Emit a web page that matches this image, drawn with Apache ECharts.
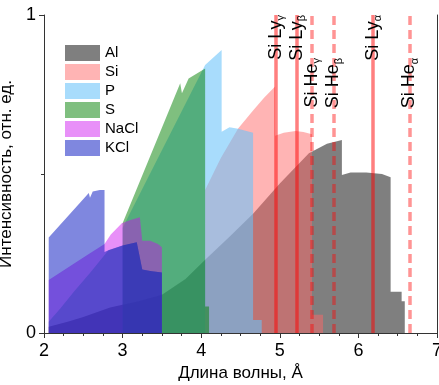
<!DOCTYPE html>
<html><head><meta charset="utf-8">
<script src="https://cdn.jsdelivr.net/npm/echarts@6/dist/echarts.min.js"></script>
<style>html,body{margin:0;padding:0;background:#fff}#c{width:439px;height:385px}</style>
</head><body><div id="c"></div>
<script>
// ---- data (wavelength Å, relative intensity) ----
const alX = [2.06,2.3,2.5,2.84,3.2,3.5,3.8,4.05,4.35,4.66,5.0,5.37,5.6,5.79,5.79,5.9,6.1,6.3,6.41,6.41,6.55,6.55,6.59,6.59];
const alY = [0.02,0.035,0.05,0.08,0.10,0.12,0.17,0.23,0.30,0.375,0.47,0.565,0.595,0.607,0.497,0.505,0.505,0.50,0.49,0.13,0.13,0.10,0.10,0];
const siX = [4.05,4.25,4.47,4.66,4.8,4.94,4.94,5.05,5.2,5.3,5.41,5.41,5.55,5.55];
const siY = [0.45,0.55,0.643,0.70,0.74,0.775,0.62,0.63,0.635,0.632,0.625,0.057,0.057,0];
const pX = [3.0,3.05,4.05,4.26,4.26,4.30,4.36,4.47,4.66,4.66,4.77,4.77];
const pY = [0.33,0.355,0.843,0.89,0.633,0.638,0.647,0.642,0.63,0.041,0.041,0];
const sX = [3.0,3.733,3.755,3.84,4.05,4.05,4.1,4.1];
const sY = [0.345,0.785,0.754,0.80,0.832,0.083,0.083,0];
const naclX = [2.06,2.3,2.55,2.77,2.85,2.99,3.1,3.22,3.25,3.35,3.45,3.5,3.5];
const naclY = [0.167,0.205,0.245,0.28,0.31,0.345,0.355,0.364,0.29,0.29,0.28,0.27,0];
const kclX = [2.06,2.57,2.585,2.62,2.71,2.77,2.77,2.82,3.0,3.18,3.25,3.35,3.5,3.5];
const kclY = [0.30,0.44,0.425,0.445,0.45,0.45,0.255,0.26,0.275,0.285,0.20,0.195,0.19,0];
const kcl2X = [2.06,2.21,2.38,2.59,2.82,3.0,3.18,3.25,3.35,3.5,3.5];
const kcl2Y = [0.035,0.078,0.13,0.19,0.26,0.275,0.285,0.20,0.195,0.19,0];
// spectral lines of Si
const lyLines = [4.947, 5.217, 6.18];
const lyNames = ['γ','β','α'];
const heLines = [5.405, 5.681, 6.648];
const heNames = ['γ','β','α'];
const xTicks = [2,3,4,5,6,7];
const yTicks = [0,1];

const zip = (xs, ys) => xs.map((x, i) => [x, ys[i]]);
const FONT = 'Liberation Sans, Arial, sans-serif';

const layers = [
  {name:'Al', x:alX, y:alY, color:'rgba(0,0,0,0.5)'},
  {name:'Si', x:siX, y:siY, color:'rgba(255,102,102,0.49)'},
  {name:'P', x:pX, y:pY, color:'rgba(105,195,250,0.58)'},
  {name:'S', x:sX, y:sY, color:'rgba(0,128,0,0.5)'},
  {name:'NaCl', x:naclX, y:naclY, color:'rgba(204,8,239,0.45)'},
  {name:'KCl', x:kclX, y:kclY, color:'rgba(0,16,192,0.5)'},
  {name:'KCl-2', x:kcl2X, y:kcl2Y, color:'rgba(45,62,180,0.4)'}
];

const series = layers.map(l => ({
  name: l.name, type: 'line', data: zip(l.x, l.y), symbol: 'none',
  lineStyle: {width: 0}, itemStyle: {color: l.color}, color: l.color,
  areaStyle: {color: l.color, opacity: 1}, silent: true
}));

const labelRich = {g: {fontSize: 11, fontFamily: FONT, color: '#000', padding: [11,0,0,0]}};
const mk = lyLines.map(v => [{coord:[v,0]},{coord:[v,1]}]);
const dash = heLines.map(v => [{coord:[v,0]},{coord:[v,1]}]);
const lblLy = lyLines.map((v,i) => [{coord:[v,0], label:{formatter:'Si Ly{g|'+lyNames[i]+'}'}},{coord:[v,1]}]);
const lblHe = heLines.map((v,i) => [{coord:[v,0], label:{formatter:'Si He{g|'+heNames[i]+'}'}},{coord:[v,0.865]}]);

series.push({type:'line', data:[], markLine:{silent:true, symbol:['none','none'], animation:false,
  lineStyle:{color:'rgba(255,0,0,0.5)', width:3.5, type:'solid'}, label:{show:false}, data:mk}});
series.push({type:'line', data:[], markLine:{silent:true, symbol:['none','none'], animation:false,
  lineStyle:{color:'rgba(255,0,0,0.42)', width:3.5, type:[9,5]}, label:{show:false}, data:dash}});
series.push({type:'line', data:[], markLine:{silent:true, symbol:['none','none'], animation:false,
  lineStyle:{color:'rgba(0,0,0,0)', width:1}, label:{show:true, position:'insideEnd', distance:0, fontSize:18, fontFamily:FONT, color:'#000', rich:labelRich},
  data:lblLy.concat(lblHe)}});

const axisCol = '#333';
const chart = echarts.init(document.getElementById('c'), null, {renderer:'canvas'});
chart.setOption({
  animation: false,
  textStyle: {fontFamily: FONT},
  grid: {left:44, right:2, top:15, bottom:52, containLabel:false, outerBoundsMode:'none'},
  legend: {
    orient:'vertical', left:65, top:45, padding:0, itemWidth:35, itemHeight:16, itemGap:3, icon:'rect',
    textStyle:{fontSize:15, fontFamily:FONT, color:'#000'},
    data: layers.slice(0,6).map(l => ({name:l.name, itemStyle:{color:l.color}}))
  },
  xAxis: [{
    type:'value', min:xTicks[0], max:xTicks[xTicks.length-1], interval:1,
    name:'Длина волны, Å', nameLocation:'middle', nameGap:32,
    nameTextStyle:{fontSize:17, fontFamily:FONT, color:'#000'},
    axisLine:{lineStyle:{color:axisCol}}, axisTick:{inside:false, length:5, lineStyle:{color:axisCol}},
    minorTick:{show:true, splitNumber:4, length:3, lineStyle:{color:axisCol}},
    axisLabel:{fontSize:18, fontFamily:FONT, color:'#000', margin:9}, splitLine:{show:false}
  },{
    type:'value', position:'top', min:2, max:7, interval:1,
    axisLine:{show:true, lineStyle:{color:axisCol}}, axisTick:{show:true, inside:true, length:5, lineStyle:{color:axisCol}},
    minorTick:{show:true, splitNumber:4, length:3, lineStyle:{color:axisCol}},
    axisLabel:{show:false}, splitLine:{show:false}
  }],
  yAxis: [{
    type:'value', min:yTicks[0], max:yTicks[1], interval:1,
    name:'Интенсивность, отн. ед.', nameLocation:'middle', nameGap:25,
    nameTextStyle:{fontSize:17, fontFamily:FONT, color:'#000'},
    axisLine:{show:true, lineStyle:{color:axisCol}}, axisTick:{show:true, inside:false, length:5, lineStyle:{color:axisCol}},
    minorTick:{show:true, splitNumber:2, length:3, lineStyle:{color:axisCol}},
    axisLabel:{fontSize:18, fontFamily:FONT, color:'#000', margin:8}, splitLine:{show:false}
  },{
    type:'value', position:'right', min:0, max:1,
    axisLine:{show:true, lineStyle:{color:axisCol}}, axisTick:{show:false}, axisLabel:{show:false}, splitLine:{show:false}
  }],
  series: series
});
</script></body></html>
